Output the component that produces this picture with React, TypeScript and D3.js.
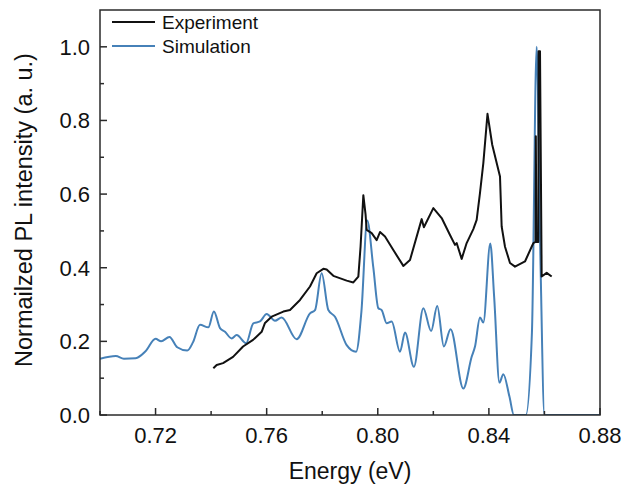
import React from "react";
import * as d3 from "d3";

const simEnergy = [0.70,0.7057,0.7086,0.7128,0.7164,0.72,0.722,0.725,0.7278,0.7314,0.7335,0.736,0.739,0.741,0.7432,0.745,0.7474,0.7492,0.7526,0.7552,0.7576,0.76,0.763,0.7654,0.7708,0.7756,0.7774,0.7798,0.7822,0.7846,0.7888,0.7922,0.7941,0.7962,0.7984,0.8002,0.8014,0.8032,0.805,0.808,0.8098,0.813,0.8164,0.8192,0.8214,0.8238,0.8262,0.8308,0.8338,0.835,0.8368,0.838,0.8405,0.8419,0.8438,0.8452,0.8474,0.849,0.8533,0.8555,0.8572,0.8586,0.860,0.88];
const simIntensity = [0.153,0.16,0.153,0.154,0.173,0.207,0.20,0.212,0.184,0.175,0.198,0.245,0.238,0.281,0.236,0.226,0.208,0.217,0.195,0.249,0.254,0.274,0.256,0.265,0.206,0.276,0.285,0.385,0.285,0.267,0.19,0.172,0.28,0.528,0.40,0.29,0.285,0.249,0.254,0.172,0.224,0.131,0.29,0.228,0.296,0.186,0.233,0.072,0.158,0.186,0.265,0.251,0.466,0.32,0.088,0.111,0.05,0.0,0.0,0.225,1.0,0.407,0.0,0.0];

const expEnergy = [0.7408,0.742,0.7443,0.7479,0.7515,0.7551,0.7582,0.7594,0.7618,0.766,0.7684,0.772,0.7756,0.778,0.7804,0.7816,0.784,0.7888,0.7912,0.793,0.7938,0.7948,0.7956,0.796,0.7978,0.7996,0.8008,0.8026,0.8056,0.8092,0.8116,0.8158,0.8166,0.82,0.823,0.826,0.8278,0.8284,0.8302,0.832,0.8344,0.8356,0.8368,0.838,0.8395,0.8412,0.844,0.8446,0.8458,0.8476,0.8494,0.853,0.8554,0.856,0.8568,0.8569,0.8571,0.8578,0.8579,0.8584,0.859,0.8608,0.8626];
const expIntensity = [0.127,0.136,0.141,0.158,0.186,0.204,0.226,0.25,0.267,0.281,0.285,0.3125,0.349,0.385,0.397,0.395,0.378,0.365,0.36,0.376,0.457,0.597,0.545,0.503,0.494,0.475,0.497,0.485,0.448,0.405,0.421,0.532,0.51,0.562,0.535,0.489,0.462,0.467,0.424,0.467,0.505,0.53,0.603,0.684,0.818,0.734,0.648,0.512,0.457,0.413,0.403,0.417,0.457,0.467,0.47,0.757,0.47,0.47,0.988,0.988,0.376,0.386,0.376];

const xTicks = [0.72, 0.76, 0.80, 0.84, 0.88];
const xMinorTicks = [0.70, 0.74, 0.78, 0.82, 0.86];
const yTicks = [0.0, 0.2, 0.4, 0.6, 0.8, 1.0];
const yMinorTicks = [0.1, 0.3, 0.5, 0.7, 0.9];
const seriesNames = ["Experiment", "Simulation"];

const FONT = "'Liberation Sans', Arial, sans-serif";
const AX = "#2a2a2a";
const BLUE = "#4681b8";

export default function App() {
  const W = 622, H = 484;
  const left = 100, right = 600, top = 10, bottom = 415;
  const x = d3.scaleLinear().domain([0.70, 0.88]).range([left, right]);
  const y = d3.scaleLinear().domain([0, 1.1]).range([bottom, top]);

  const simData = simEnergy.map((e, i) => [e, simIntensity[i]] as [number, number]);
  const expData = expEnergy.map((e, i) => [e, expIntensity[i]] as [number, number]);

  const simLine = d3.line<[number, number]>().x(d => x(d[0])).y(d => y(d[1])).curve(d3.curveMonotoneX);
  const expLine = d3.line<[number, number]>().x(d => x(d[0])).y(d => y(d[1])).curve(d3.curveLinear);

  return (
    <svg width={W} height={H} style={{ position: "absolute", left: 0, top: 0, background: "#fff" }}>
      <defs>
        <clipPath id="plotclip">
          <rect x={left} y={top} width={right - left} height={bottom - top} />
        </clipPath>
      </defs>
      <g clipPath="url(#plotclip)">
        <path d={simLine(simData) || ""} fill="none" stroke={BLUE} strokeWidth={2} strokeLinejoin="round" />
        <path d={expLine(expData) || ""} fill="none" stroke="#111" strokeWidth={2} strokeLinejoin="round" />
      </g>
      <rect x={left} y={top} width={right - left} height={bottom - top} fill="none" stroke={AX} strokeWidth={1.5} />
      {xTicks.map(t => (
        <g key={"xt" + t}>
          <line x1={x(t)} x2={x(t)} y1={bottom} y2={bottom - 7} stroke={AX} strokeWidth={1.5} />
          <text x={x(t)} y={443} textAnchor="middle" fontFamily={FONT} fontSize={22} fill="#111">{t.toFixed(2)}</text>
        </g>
      ))}
      {xMinorTicks.map(t => (
        <line key={"xm" + t} x1={x(t)} x2={x(t)} y1={bottom} y2={bottom - 4} stroke={AX} strokeWidth={1.5} />
      ))}
      {yTicks.map(t => (
        <g key={"yt" + t}>
          <line x1={left} x2={left + 7} y1={y(t)} y2={y(t)} stroke={AX} strokeWidth={1.5} />
          <text x={90} y={y(t) + 8} textAnchor="end" fontFamily={FONT} fontSize={22} fill="#111">{t.toFixed(1)}</text>
        </g>
      ))}
      {yMinorTicks.map(t => (
        <line key={"ym" + t} x1={left} x2={left + 4} y1={y(t)} y2={y(t)} stroke={AX} strokeWidth={1.5} />
      ))}
      <line x1={112} x2={155} y1={22} y2={22} stroke="#111" strokeWidth={2} />
      <text x={162} y={28.5} fontFamily={FONT} fontSize={19} fill="#111">{seriesNames[0]}</text>
      <line x1={112} x2={155} y1={46} y2={46} stroke={BLUE} strokeWidth={2} />
      <text x={162} y={52.5} fontFamily={FONT} fontSize={19} fill="#111">{seriesNames[1]}</text>
      <text x={350} y={479} textAnchor="middle" fontFamily={FONT} fontSize={23} fill="#111">Energy (eV)</text>
      <text transform="translate(32,210) rotate(-90)" textAnchor="middle" fontFamily={FONT} fontSize={23.5} fill="#111">Normailzed PL intensity (a. u.)</text>
    </svg>
  );
}
